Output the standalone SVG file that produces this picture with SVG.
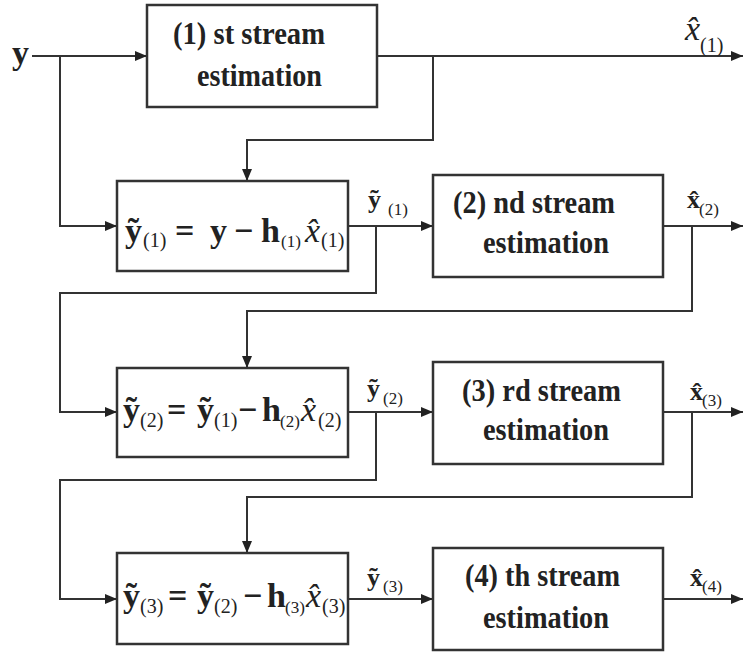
<svg xmlns="http://www.w3.org/2000/svg" width="745" height="653" viewBox="0 0 745 653">
<defs>
<marker id="ah" markerWidth="12" markerHeight="10" refX="12" refY="5" orient="auto" markerUnits="userSpaceOnUse">
<path d="M0,0 L12,5 L0,10 Z" fill="#222"/>
</marker>
<style>
.box{fill:#fff;stroke:#333;stroke-width:2.5}
.ln{fill:none;stroke:#333;stroke-width:2}
text{font-family:'Liberation Serif','Times New Roman','DejaVu Serif',serif;fill:#222}
.t{font-weight:bold;font-size:32px}
.m{font-size:34px}
.b{font-weight:bold}
.i{font-style:italic}
.s{font-size:20px}
.ss{font-size:17px}
.lb{font-size:26px}
</style>
</defs>
<rect width="745" height="653" fill="#fff"/>

<g id="connectors">
<path class="ln" d="M32,56 H147" marker-end="url(#ah)"/>
<path class="ln" d="M60,56 V226 H117" marker-end="url(#ah)"/>
<path class="ln" d="M377,56 H743" marker-end="url(#ah)"/>
<path class="ln" d="M433,56 V140 H247 V181" marker-end="url(#ah)"/>
<path class="ln" d="M348,226 H433" marker-end="url(#ah)"/>
<path class="ln" d="M376,226 V293 H60 V412 H117" marker-end="url(#ah)"/>
<path class="ln" d="M663,226 H743" marker-end="url(#ah)"/>
<path class="ln" d="M692,226 V311 H247 V368" marker-end="url(#ah)"/>
<path class="ln" d="M348,412 H433" marker-end="url(#ah)"/>
<path class="ln" d="M376,412 V480 H60 V599 H117" marker-end="url(#ah)"/>
<path class="ln" d="M663,412 H743" marker-end="url(#ah)"/>
<path class="ln" d="M692,412 V497 H247 V553" marker-end="url(#ah)"/>
<path class="ln" d="M348,599 H433" marker-end="url(#ah)"/>
<path class="ln" d="M663,599 H743" marker-end="url(#ah)"/>
</g>

<g id="labels" font-family="Liberation Serif, serif">
<text class="m b" x="12" y="64" font-size="32">y</text>
<text class="m i" x="685" y="40" font-size="32">x̂</text>
<text class="s" x="700" y="52">(1)</text>
<text class="lb b" x="368" y="208">ỹ</text>
<text class="s ss" x="388" y="215">(1)</text>
<text class="lb b" x="687" y="208">x̂</text>
<text class="s ss" x="699" y="215">(2)</text>
<text class="lb b" x="367" y="397">ỹ</text>
<text class="s ss" x="383" y="404">(2)</text>
<text class="lb b" x="690" y="400">x̂</text>
<text class="s ss" x="702" y="406">(3)</text>
<text class="lb b" x="367" y="586">ỹ</text>
<text class="s ss" x="383" y="592">(3)</text>
<text class="lb b" x="690" y="586">x̂</text>
<text class="s ss" x="702" y="592">(4)</text>
</g>

<g id="node-est1" font-family="Liberation Serif, serif">
<rect class="box" x="147" y="5" width="230" height="102"/>
<text class="t" x="173" y="44" textLength="152" lengthAdjust="spacingAndGlyphs">(1) st stream</text>
<text class="t" x="197" y="86" textLength="125" lengthAdjust="spacingAndGlyphs">estimation</text>
</g>

<g id="node-sub1" font-family="Liberation Serif, serif">
<rect class="box" x="117" y="181" width="231" height="90"/>
<text class="m b" x="125" y="242">ỹ</text>
<text class="s" x="143" y="247">(1)</text>
<text class="m b" x="175" y="242">=</text>
<text class="m b" x="210" y="242">y</text>
<text class="m b" x="234" y="242">−</text>
<text class="m b" x="261" y="242">h</text>
<text class="s ss" x="281" y="247">(1)</text>
<text class="m i" x="305" y="242">x̂</text>
<text class="s" x="321" y="247">(1)</text>
</g>

<g id="node-est2" font-family="Liberation Serif, serif">
<rect class="box" x="433" y="175" width="230" height="102"/>
<text class="t" x="453" y="213" textLength="162" lengthAdjust="spacingAndGlyphs">(2) nd stream</text>
<text class="t" x="483" y="253" textLength="126" lengthAdjust="spacingAndGlyphs">estimation</text>
</g>

<g id="node-sub2" font-family="Liberation Serif, serif">
<rect class="box" x="117" y="368" width="231" height="89"/>
<text class="m b" x="123" y="421">ỹ</text>
<text class="s" x="140" y="427">(2)</text>
<text class="m b" x="167" y="421">=</text>
<text class="m b" x="197" y="421">ỹ</text>
<text class="s" x="214" y="427">(1)</text>
<text class="m b" x="238" y="421">−</text>
<text class="m b" x="262" y="421">h</text>
<text class="s ss" x="280" y="427">(2)</text>
<text class="m i" x="301" y="421">x̂</text>
<text class="s" x="318" y="427">(2)</text>
</g>

<g id="node-est3" font-family="Liberation Serif, serif">
<rect class="box" x="433" y="362" width="230" height="102"/>
<text class="t" x="462" y="401" textLength="159" lengthAdjust="spacingAndGlyphs">(3) rd stream</text>
<text class="t" x="483" y="440" textLength="126" lengthAdjust="spacingAndGlyphs">estimation</text>
</g>

<g id="node-sub3" font-family="Liberation Serif, serif">
<rect class="box" x="117" y="553" width="231" height="91"/>
<text class="m b" x="123" y="607">ỹ</text>
<text class="s" x="140" y="613">(3)</text>
<text class="m b" x="168" y="607">=</text>
<text class="m b" x="197" y="607">ỹ</text>
<text class="s" x="214" y="613">(2)</text>
<text class="m b" x="243" y="607">−</text>
<text class="m b" x="267" y="607">h</text>
<text class="s ss" x="285" y="613">(3)</text>
<text class="m i" x="306" y="607">x̂</text>
<text class="s" x="322" y="613">(3)</text>
</g>

<g id="node-est4" font-family="Liberation Serif, serif">
<rect class="box" x="433" y="548" width="230" height="102"/>
<text class="t" x="465" y="586" textLength="155" lengthAdjust="spacingAndGlyphs">(4) th stream</text>
<text class="t" x="483" y="628" textLength="126" lengthAdjust="spacingAndGlyphs">estimation</text>
</g>
</svg>
